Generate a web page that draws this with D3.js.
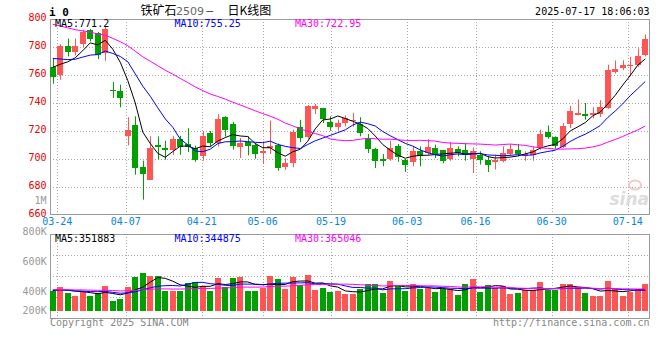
<!DOCTYPE html>
<html><head><meta charset="utf-8">
<script src="https://cdn.jsdelivr.net/npm/d3@7"></script>
<style>html,body{margin:0;padding:0;background:#fff;} svg{display:block;}</style>
</head><body><svg id="c" width="660" height="360"></svg>
<script>
const dates = ["03-21","03-24","03-25","03-26","03-27","03-28","03-31","04-01","04-02","04-03",
"04-07","04-08","04-09","04-10","04-11","04-14","04-15","04-16","04-17","04-18",
"04-21","04-22","04-23","04-24","04-25","04-28","04-29","04-30","05-06","05-07",
"05-08","05-09","05-12","05-13","05-14","05-15","05-16","05-19","05-20","05-21",
"05-22","05-23","05-26","05-27","05-28","05-29","05-30","06-03","06-04","06-05",
"06-06","06-09","06-10","06-11","06-12","06-13","06-16","06-17","06-18","06-19",
"06-20","06-23","06-24","06-25","06-26","06-27","06-30","07-01","07-02","07-03",
"07-04","07-07","07-08","07-09","07-10","07-11","07-14","07-15","07-16","07-17"];
const open = [765.7,760.2,780.5,776.7,782.1,791.9,790,775.5,749.5,748.8,
716.4,724.5,694.3,685.2,710,708,706.5,714.5,710.5,708,
702.5,718.6,711.4,729.8,725,708.8,712.1,710.2,704.5,708.1,
710.2,694.4,697.2,722.9,715.7,736,736.4,726.4,722.9,725.7,
727,725,715,707.1,700.2,700.2,709.5,699.5,697.9,705.5,
704.3,707.9,706.2,700.2,707.4,706.7,700.2,703.1,699.5,697.6,
698.8,703.8,706.7,702.4,703.1,707.9,719.3,715.7,708.6,725,
731.7,731.9,731.5,732,736.3,762.3,765.2,766.5,767.3,774];
const high = [772.1,782,786,786,792.4,792.9,790.7,794.8,755,753,
729.8,730.5,698.8,716.2,716.2,713,716.5,716.5,722,709.5,
720,720,732,730.5,726.5,715,716.2,711.4,712.6,727.4,
711,700.6,721,728,738.5,739.3,736.6,730.5,728.1,731.2,
733,729.8,717.9,708,703.6,713.1,710.7,700,709,709,
714.3,710.2,706.5,712.1,709,711.4,708.3,705.5,701.9,703.1,
709,710.7,710.7,705.5,709,721,724,716.2,725.7,738.1,
742.4,740,737,742,767.3,770.4,770.5,773,779,789];
const low = [753.8,756.6,773.3,774,779.8,784,771.4,770.2,743.6,736.9,
709.8,688.8,671,685.2,699.5,699.5,703,703,705,698,
698.8,709,709,716,706.7,700.7,702.6,700.2,696.4,703.6,
691.5,692.2,694,712,714.5,732.1,725.7,720.2,720.2,723.3,
723,716.2,704.3,693.6,694.8,698.8,698,690.7,694.8,694.8,
703.1,700.7,697,698.8,701.9,698.8,690,696,690.7,692.4,
697.6,701.9,701.9,698.8,698.8,706.7,714.5,707.4,708,722.1,
731.2,728.1,729,730,735.8,761,763.5,759,766,773.3];
const close = [758.3,781,776.7,780.5,790.5,786,774,793.1,748.8,743.6,
721,693.6,689.3,707.9,708.6,706.7,714,708.5,708.5,699,
716.3,711.5,728.8,721,709.5,711.4,709.5,703.8,706,709.5,
693.6,697.2,719.4,715,738.1,738.1,728.8,722.9,725.7,729.3,
728,718.6,707.4,698.8,698.8,707.9,701.2,696,706,701.9,
708.3,703.6,698.8,707.9,704.3,703.1,705.5,699.5,696,699.5,
704.3,707.4,703.6,703.6,706.2,717.9,715.5,709,723.3,734.5,
732.6,730.7,733,736.8,763.3,764,767,767.2,773.5,785.5];
const volume = [333,406,304,254,311,254,304,423,164,198,
406,575,642,592,586,338,338,338,473,490,
423,338,558,406,558,575,338,338,389,592,
536,367,575,434,603,350,389,321,333,282,
282,362,451,451,304,502,417,338,451,362,
389,321,362,362,265,451,536,321,434,379,
417,282,304,350,350,490,350,350,451,451,
406,304,248,248,502,362,248,321,362,451].map(v => v * 1000);
// history before the visible window (needed so the moving averages start at the left edge)
const priorCloses = [814,818,821,816,812,815,819,817,813,809,811,807,804,806,802,798,801,796,793,795,785,781,778,775,772,770,768,766,765];
const priorVolumes = [372,345,390,330,365,410,352,318,385,360,340,398,325,372,356,388,342,365,330,395,348,372,336,360,344,318,362,335,350].map(v => v * 1000);

const priceTicks = [800,780,760,740,720,700,680,660];
const dateTicks = ["03-24","04-07","04-21","05-06","05-19","06-03","06-16","06-30","07-14"];
const volTicks = [800000,600000,400000,200000];
const priceMaLabels = ["MA5:771.2","MA10:755.25","MA30:722.95"];
const volMaLabels = ["MA5:351883","MA10:344875","MA30:365046"];
const maPeriods = [5,10,30];
const maColors = ["#000000","#0000ff","#ff00ff"];

const RED = "#ff5555", GREEN = "#00a000", GRID = "#a8a8a8", FRAME = "#9a9a9a";
const MONO = "'DejaVu Sans Mono', 'Liberation Mono', monospace";

const svg = d3.select("#c");
const P = {l:50, r:649, t:19, b:214};
const V = {t:234, b:318};

const x = d3.scaleBand().domain(dates).range([49, 649]).paddingInner(0.2).paddingOuter(0.1);
const cx = d => x(d) + x.bandwidth() / 2;
const gx = d3.scalePoint().domain(dates).range([49.7, 650.5]);
const y = d3.scaleLinear().domain([660, 800]).range([215, 19]);
const yv = d3.scaleLinear().domain([0, 1300000]).range([310.7, 233.8]);
const yvLabel = d3.scaleLinear().domain([400000, 800000]).range([291, 231]);

function ma(series, prior, n) {
  const all = prior.concat(series);
  return series.map((_, i) => {
    const j = i + prior.length;
    return d3.mean(all.slice(j - n + 1, j + 1));
  });
}
const crisp = v => Math.round(v) + 0.5;

// grids
const grid = svg.append("g").attr("stroke", GRID).attr("stroke-dasharray", "1,2").attr("stroke-width", 1);
priceTicks.filter(v => v < 800 && v > 660).forEach(v => {
  grid.append("line").attr("x1", P.l).attr("x2", P.r).attr("y1", crisp(y(v))).attr("y2", crisp(y(v)));
});
for (let k = 1; k <= 3; k++) {
  const yy = crisp(V.t + (V.b - V.t) * k / 4);
  grid.append("line").attr("x1", P.l).attr("x2", P.r).attr("y1", yy).attr("y2", yy);
}
dateTicks.forEach(d => {
  const xx = crisp(gx(d));
  grid.append("line").attr("x1", xx).attr("x2", xx).attr("y1", P.t).attr("y2", P.b);
  grid.append("line").attr("x1", xx).attr("x2", xx).attr("y1", V.t).attr("y2", V.b);
});

// watermark
const wm = svg.append("g").attr("opacity", 0.9);
wm.append("ellipse").attr("cx", 635).attr("cy", 185).attr("rx", 6).attr("ry", 4.5)
  .attr("fill", "none").attr("stroke", "#f3c4c4").attr("stroke-width", 2);
wm.append("text").attr("x", 649).attr("y", 205).attr("text-anchor", "end")
  .attr("font-family", "'DejaVu Sans', sans-serif").attr("font-size", 17).attr("font-weight", "bold")
  .attr("font-style", "italic").attr("fill", "#d9d9d9").text("sina");

// frames
svg.append("rect").attr("x", P.l + 0.5).attr("y", P.t + 0.5).attr("width", P.r - P.l).attr("height", P.b - P.t)
  .attr("fill", "none").attr("stroke", FRAME);
svg.append("rect").attr("x", P.l + 0.5).attr("y", V.t + 0.5).attr("width", P.r - P.l).attr("height", V.b - V.t)
  .attr("fill", "none").attr("stroke", FRAME);

// candles
const idx = d3.range(dates.length);
const cg = svg.append("g");
idx.forEach(i => {
  const up = close[i] >= open[i];
  const col = up ? RED : GREEN;
  const xc = Math.round(cx(dates[i])) + 0.5;
  cg.append("line").attr("x1", xc).attr("x2", xc).attr("y1", y(high[i])).attr("y2", y(low[i]))
    .attr("stroke", col).attr("stroke-width", 1);
  const top = y(Math.max(open[i], close[i])), bot = y(Math.min(open[i], close[i]));
  cg.append("rect").attr("x", Math.round(x(dates[i]))).attr("y", top)
    .attr("width", Math.round(x.bandwidth())).attr("height", Math.max(1.5, bot - top))
    .attr("fill", col).attr("shape-rendering", "crispEdges");
});

// price MAs
maPeriods.forEach((n, k) => {
  const m = ma(close, priorCloses, n);
  svg.append("path").attr("fill", "none").attr("stroke", maColors[k]).attr("stroke-width", 1)
    .attr("d", d3.line().x(i => cx(dates[i])).y(i => y(m[i]))(idx));
});

// volume bars
const vg = svg.append("g");
idx.forEach(i => {
  const col = close[i] >= open[i] ? RED : GREEN;
  vg.append("rect").attr("x", Math.round(x(dates[i]))).attr("y", yv(volume[i]))
    .attr("width", Math.round(x.bandwidth())).attr("height", yv(0) - yv(volume[i]))
    .attr("fill", col).attr("shape-rendering", "crispEdges");
});
maPeriods.forEach((n, k) => {
  const m = ma(volume, priorVolumes, n);
  svg.append("path").attr("fill", "none").attr("stroke", maColors[k]).attr("stroke-width", 1)
    .attr("d", d3.line().x(i => cx(dates[i])).y(i => yv(m[i]))(idx));
});

// texts
const txt = (xx, yy, s, opts = {}) => svg.append("text").attr("x", xx).attr("y", yy)
  .attr("font-family", opts.family || MONO).attr("font-size", opts.size || 10)
  .attr("fill", opts.fill || "#000").attr("text-anchor", opts.anchor || "start")
  .attr("font-weight", opts.weight || "normal").text(s);

priceTicks.forEach(v => txt(46.5, y(v) + 2, String(v), {anchor: "end", fill: "#ee0000"}));
txt(46.5, 204, "1M", {anchor: "end", fill: "#999"});
volTicks.forEach(v => {
  const yy = Math.min(yvLabel(v), 310.3);
  txt(46.7, yy + 3.6, (v / 1000) + "K", {anchor: "end", fill: "#999"});
});
dateTicks.forEach(d => txt(gx(d), 225, d, {anchor: "middle", fill: "#0a85d9"}));

const maX = [55, 174.5, 295];
priceMaLabels.forEach((s, k) => txt(maX[k], 27, s, {fill: maColors[k]}));
volMaLabels.forEach((s, k) => txt(maX[k], 242, s, {fill: maColors[k]}));

txt(49, 15.5, "i 0", {weight: "bold", size: 11});
const title = svg.append("text").attr("y", 14.5).attr("font-family", "'Noto Sans CJK SC', sans-serif")
  .attr("font-size", 12).attr("fill", "#000");
title.append("tspan").attr("x", 140.5).text("铁矿石");
title.append("tspan").attr("x", 176).attr("fill", "#666").attr("font-family", "'DejaVu Sans', sans-serif").attr("font-size", 11).text("2509");
title.append("tspan").attr("x", 205).attr("font-size", 9.5).text("－");
title.append("tspan").attr("x", 227.5).attr("font-size", 12).text("日K线图");
txt(649.5, 15, "2025-07-17 18:06:03", {anchor: "end"});
txt(50, 326, "Copyright 2025 SINA.COM", {fill: "#888"});
txt(649.5, 326, "http://finance.sina.com.cn", {anchor: "end", fill: "#888"});
</script></body></html>
